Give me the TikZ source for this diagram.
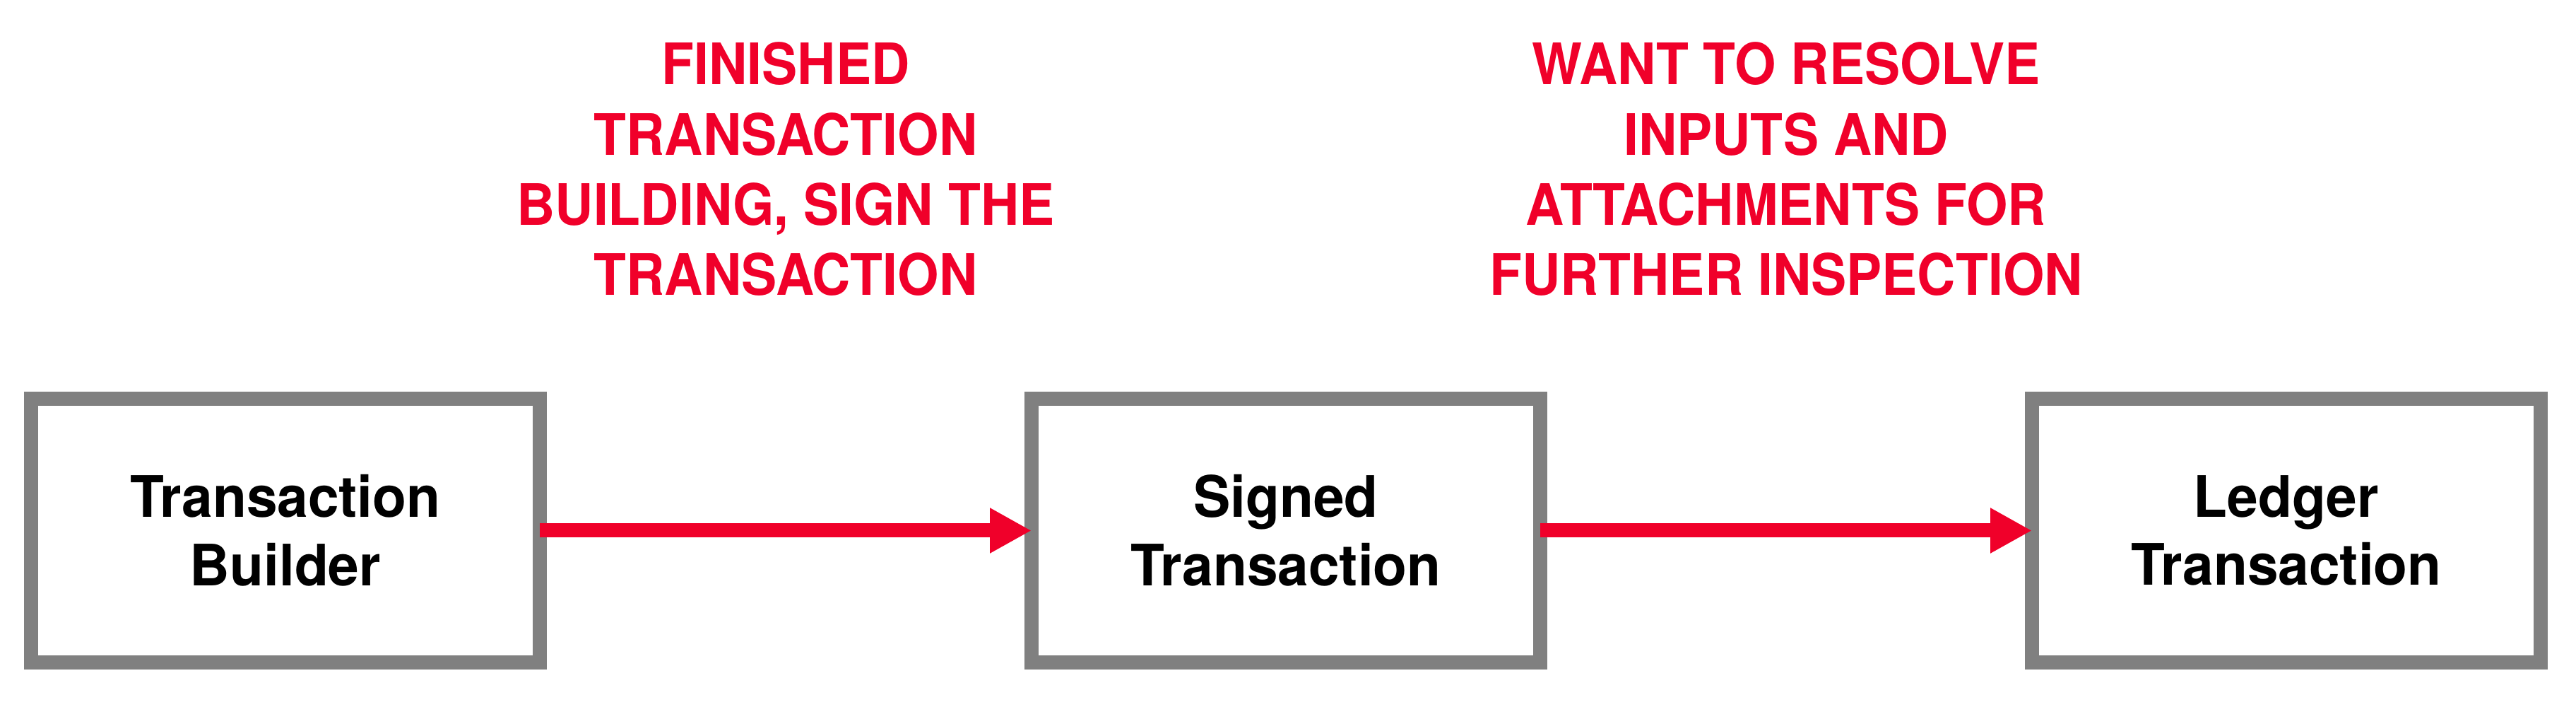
\documentclass[tikz,border=0pt]{standalone}
\usepackage{fontspec}
\setmainfont{TeX Gyre Heros}[FakeStretch=0.97]
\newfontfamily\notefont{TeX Gyre Heros}[FakeStretch=0.93]
\usepackage{tikz}
\usetikzlibrary{arrows.meta, positioning}
\definecolor{cordared}{RGB}{240,0,42}
\definecolor{boxgray}{RGB}{128,128,128}

\begin{document}
\begin{tikzpicture}[->,
				>={Triangle[length=0.59cm,width=0.6cm]},
				line width=0.2cm,
				stage/.style={draw=boxgray, rectangle, minimum width=7.2cm, minimum height=3.73cm, outer sep=0pt, align=center, font=\fontsize{23}{27.5}\selectfont\bfseries},
				note/.style={anchor=north, inner sep=0pt, align=center, text=cordared, font=\notefont\fontsize{23}{28.2}\selectfont\bfseries}]
				\useasboundingbox (0,0) rectangle (36.46,10.16);
				\node at (4.04,2.655) (builder) [stage] {Transaction\\Builder};
				\node at (18.20,2.655) (signed) [stage] {Signed\\Transaction};
				\node at (32.36,2.655) (ledger) [stage] {Ledger\\Transaction};
				\node at (11.12,9.66) (sign) [note] {FINISHED\\TRANSACTION\\BUILDING, SIGN THE\\TRANSACTION};
				\node at (25.28,9.66) (resolve) [note] {WANT TO RESOLVE\\INPUTS AND\\ATTACHMENTS FOR\\FURTHER INSPECTION};
				\draw[->, cordared] (builder) -- (signed);
				\draw[->, cordared] (signed) -- (ledger);
			\end{tikzpicture}
\end{document}
